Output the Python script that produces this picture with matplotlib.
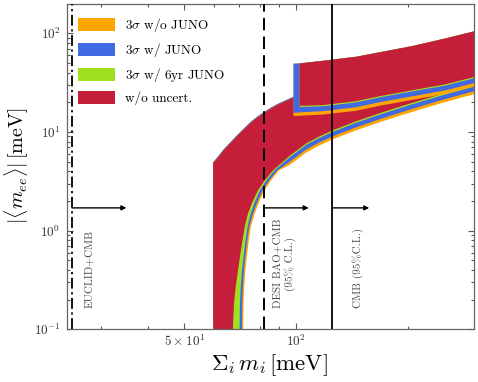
import matplotlib
matplotlib.use('Agg')
import matplotlib.pyplot as plt
from matplotlib.patches import Patch

plt.rcParams['font.family'] = ['cmr10', 'DejaVu Serif']
plt.rcParams['mathtext.fontset'] = 'cm'
plt.rcParams['axes.formatter.use_mathtext'] = True
plt.rcParams['axes.unicode_minus'] = False

# ---------------- data (meV) ----------------
# Normal ordering: upper edges
no_upper_x = [59.8, 61.7, 63.85, 66.7, 69.7, 72.7, 75.7, 78.8, 82.2, 85.6,
              89.3, 93.6, 97.9, 125, 150, 200, 300]
no_red_upper = [4.80, 5.52, 6.51, 7.75, 9.24, 10.8, 12.5, 14.1, 15.7, 17.3,
                18.9, 20.5, 22.1, 31, 43, 60, 96]
no_band_upper = [4.92, 5.66, 6.67, 7.93, 9.45, 11.05, 12.8, 14.4, 16.05, 17.7,
                 19.3, 20.95, 22.6, 31.7, 44, 61.3, 98]

# Normal ordering: lower edges (0.01 = below the plotted range)
no_red_lower_x = [59.8, 60.6, 67.4, 67.61, 68.03, 68.75, 69.73, 70.78, 71.93,
                  72.82, 74.17, 76.21, 78.90, 82.23, 86.55, 95.95, 106.4,
                  115.5, 125.3, 144.8, 167.2, 197.2, 242.2, 300]
no_red_lower = [0.13, 0.01, 0.01, 0.1, 0.18, 0.265, 0.39, 0.579, 0.854,
                1.12, 1.48, 1.94, 2.55, 3.22, 4.07, 5.72, 7.66,
                9.03, 10.39, 12.83, 15.47, 18.88, 23.86, 29.8]

no_green_lower_x = [59.8, 70.3, 70.47, 70.60, 70.91, 71.48, 72.33, 73.26,
                    74.08, 75.42, 77.36, 79.87, 83.15, 87.41, 95.95, 106.4,
                    115.5, 125.3, 144.8, 167.2, 197.2, 242.2, 300]
no_green_lower = [0.01, 0.01, 0.1, 0.18, 0.265, 0.39, 0.579, 0.854,
                  1.12, 1.48, 1.94, 2.55, 3.22, 4.07, 5.52, 7.40,
                  8.72, 10.03, 12.39, 14.94, 18.23, 23.04, 28.77]

no_blue_lower_x = [59.8, 71.3, 71.48, 71.61, 71.88, 72.37, 73.13, 74.04,
                   74.86, 76.50, 78.56, 81.22, 84.55, 88.83, 95.95, 106.4,
                   115.5, 125.3, 144.8, 167.2, 197.2, 242.2, 300]
no_blue_lower = [0.01, 0.01, 0.1, 0.18, 0.265, 0.39, 0.579, 0.854,
                 1.12, 1.48, 1.94, 2.55, 3.22, 4.07, 4.97, 6.65,
                 7.84, 9.03, 11.15, 13.44, 16.40, 20.73, 25.89]

no_orange_lower_x = [59.8, 71.8, 72.01, 72.19, 72.50, 72.99, 73.81, 74.77,
                     75.65, 77.31, 79.43, 82.13, 85.49, 89.81, 95.95, 106.4,
                     115.5, 125.3, 144.8, 167.2, 197.2, 242.2, 300]
no_orange_lower = [0.01, 0.01, 0.1, 0.18, 0.265, 0.39, 0.579, 0.854,
                   1.12, 1.48, 1.94, 2.55, 3.22, 4.07, 4.63, 6.20,
                   7.31, 8.41, 10.39, 12.53, 15.29, 19.32, 24.13]

# Inverted ordering
io_red_x = [102.1, 117.8, 144.8, 167.2, 205.4, 252.5, 300]
io_red_upper = [49.5, 52.6, 57.8, 64.1, 74.3, 89.0, 104.5]
io_red_lower = [18.4, 18.7, 20.5, 23.0, 26.5, 30.5, 36.0]
io_green_lower = [17.9, 18.2, 19.9, 22.4, 25.8, 29.6, 35.0]

io_band_x = [98.3, 102.1, 117.8, 144.8, 167.2, 205.4, 252.5, 300]
io_band_upper = [49.2, 49.5, 52.6, 57.8, 64.1, 74.3, 89.0, 104.5]
io_blue_lower = [15.6, 15.8, 16.25, 17.8, 20.0, 23.0, 26.5, 31.3]
io_orange_lower = [14.5, 14.6, 15.0, 16.4, 18.4, 21.2, 24.4, 28.8]

# Cosmological bounds
bound_x = [25.0, 82.0, 125.0]
bound_arrow_end = [35.0, 108.0, 157.0]
bound_labels = ['EUCLID+CMB', 'DESI BAO+CMB\n(95% C.L.)', 'CMB (95%C.L.)']
bound_label_x = [27.9, 93.0, 146.3]
arrow_y = 1.70
label_y = 0.163

legend_labels = [r'$3\sigma$ w/o JUNO', r'$3\sigma$ w/ JUNO',
                 r'$3\sigma$ w/ 6yr JUNO', 'w/o uncert.']

C_ORANGE = '#FFA500'
C_BLUE = '#4169E1'
C_GREEN = '#9FE022'
C_RED = '#C41E3A'

# ---------------- figure ----------------
W, H = 478, 382
fig = plt.figure(figsize=(W / 100, H / 100), dpi=100)
ax = fig.add_axes([66.7 / W, 1 - 329.3 / H, (474 - 66.7) / W, (329.3 - 4) / H])
ax.set_xscale('log')
ax.set_yscale('log')


def band(ux, uy, lx, ly, color):
    xs = list(ux) + list(lx)[::-1]
    ys = list(uy) + list(ly)[::-1]
    ax.fill(xs, ys, color=color, lw=0, zorder=2)


# NO
band(no_upper_x, no_band_upper, no_orange_lower_x, no_orange_lower, C_ORANGE)
band(no_upper_x, no_band_upper, no_blue_lower_x, no_blue_lower, C_BLUE)
band(no_upper_x, no_red_upper, no_green_lower_x, no_green_lower, C_GREEN)
band(no_upper_x, no_red_upper, no_red_lower_x, no_red_lower, C_RED)
# IO
band(io_band_x, io_band_upper, io_band_x, io_orange_lower, C_ORANGE)
band(io_band_x, io_band_upper, io_band_x, io_blue_lower, C_BLUE)
band(io_red_x, io_red_upper, io_red_x, io_green_lower, C_GREEN)
band(io_red_x, io_red_upper, io_red_x, io_red_lower, C_RED)

# bound lines
styles = [(0, (6.0, 2.0, 1.2, 2.0)), (0, (6.4, 3.2)), '-']
widths = [1.3, 1.4, 1.3]
for xb, ls, lw in zip(bound_x, styles, widths):
    ax.axvline(xb, color='k', ls=ls, lw=lw, zorder=4)
for xb, xe in zip(bound_x, bound_arrow_end):
    ax.annotate('', xy=(xe, arrow_y), xytext=(xb, arrow_y),
                arrowprops=dict(arrowstyle='-|>', color='k', lw=1.0,
                                mutation_scale=7, shrinkA=0, shrinkB=0),
                zorder=5)
for xl, txt in zip(bound_label_x, bound_labels):
    ax.text(xl, label_y, txt, rotation=90, ha='center', va='bottom',
            fontsize=8, color='0.3', multialignment='center', zorder=5)

ax.set_xlim(24.2, 300)
ax.set_ylim(0.1, 198)

ax.set_xticks([50, 100])
ax.set_xticklabels([r'$5\times10^{1}$', r'$10^{2}$'])
ax.set_xticks([30, 40, 60, 70, 80, 90, 200, 300], minor=True)
ax.set_xticklabels([], minor=True)
ax.set_yticks([0.1, 1, 10, 100])
ax.set_yticklabels([r'$10^{-1}$', r'$10^{0}$', r'$10^{1}$', r'$10^{2}$'])
ymin = [k * d for d in (0.1, 1, 10, 100) for k in range(2, 10) if k * d < 198]
ax.set_yticks(ymin, minor=True)
ax.set_yticklabels([], minor=True)

ax.tick_params(which='both', direction='in', top=True, right=True,
               color='0.35', width=0.8, labelsize=9.5, labelcolor='0.2')
ax.tick_params(which='major', length=4.5)
ax.tick_params(which='minor', length=2.5)
ax.tick_params(axis='y', which='major', pad=4.5)
ax.tick_params(axis='x', which='major', pad=3.0)
for s in ax.spines.values():
    s.set_color('0.4')
    s.set_linewidth(0.9)

fig.text(17 / W, 1 - 166 / H, r'$|\langle m_{ee}\rangle|\,[\mathrm{meV}]$',
         rotation=90, ha='center', va='center', fontsize=14.5)
fig.text(269.5 / W, 1 - 365 / H, r'$\Sigma_i\, m_i\,[\mathrm{meV}]$',
         ha='center', va='center', fontsize=16.5)

handles = [Patch(facecolor=c, edgecolor='none') for c in
           (C_ORANGE, C_BLUE, C_GREEN, C_RED)]
ax.legend(handles, legend_labels, loc='upper left',
          bbox_to_anchor=(0.0285, 0.964), borderpad=0, borderaxespad=0,
          frameon=False, fontsize=9.5, handlelength=2.78, handleheight=1.14,
          handletextpad=0.78, labelspacing=0.55)

fig.savefig('out.png', dpi=100)
